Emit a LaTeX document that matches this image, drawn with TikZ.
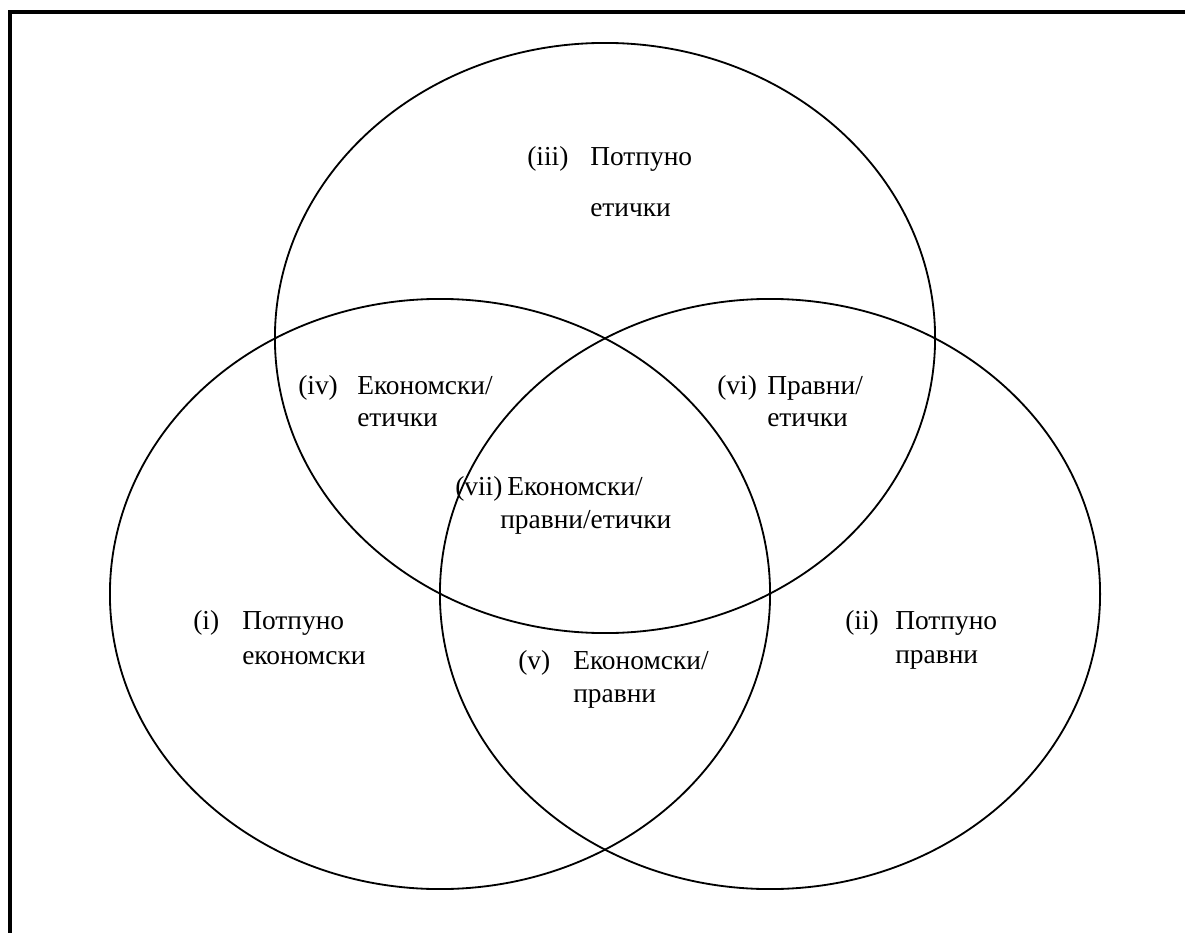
\documentclass[tikz,border=0pt]{standalone}
\usepackage{fontspec}
\setmainfont{Liberation Serif}
\usetikzlibrary{calc}
\tikzset{
    venn/.style={line width=1.3pt},
    frameline/.style={line width=2.2pt, line cap=rect},
    txt/.style={anchor=base west, inner sep=0pt, font=\fontsize{19.5}{24}\selectfont}
}

\begin{document}
\begin{tikzpicture}[x=0.025cm, y=-0.025cm]
\useasboundingbox (0,0) rectangle (1185,933);
% frame (open at the right and at the bottom)
\coordinate (fbl) at (10,933);
\coordinate (ftl) at (10,12);
\coordinate (ftr) at (1185,12);
\draw[frameline] (fbl) -- (ftl) -- (ftr);
% the three sets
\foreach \x/\y/\p in {605/338/etic, 440/594/econ, 770/594/legal}{
    \coordinate (\p) at (\x,\y);
    \draw[venn] (\p) ellipse [x radius=8.25cm, y radius=7.375cm];
}
% region labels
\foreach \tx/\x/\y/\d/\p/\tag/\one/\two in {
    527/590/165/51/r3/{(iii)}/{Потпуно}/{етички},
    298/357/394/32/r4/{(iv)}/{Економски/}/{етички},
    717/767/394/32/r6/{(vi)}/{Правни/}/{етички},
    193/242/629/35/r1/{(i)}/{Потпуно}/{економски},
    845/895/629/34/r2/{(ii)}/{Потпуно}/{правни},
    518/573/669/33/r5/{(v)}/{Економски/}/{правни}}{
    \node[txt] (\p) at (\x,\y) {\one};
    \node[txt] (\p t) at (\tx,\y) {\tag};
    \node[txt] (\p b) at (\x,\y+\d) {\two};
}
\node[txt] (r7t) at (455,495) {(vii)};
\node[txt] (r7) at (507,495) {Економски/};
\node[txt] (r7b) at (500,528) {правни/етички};
\end{tikzpicture}
\end{document}
